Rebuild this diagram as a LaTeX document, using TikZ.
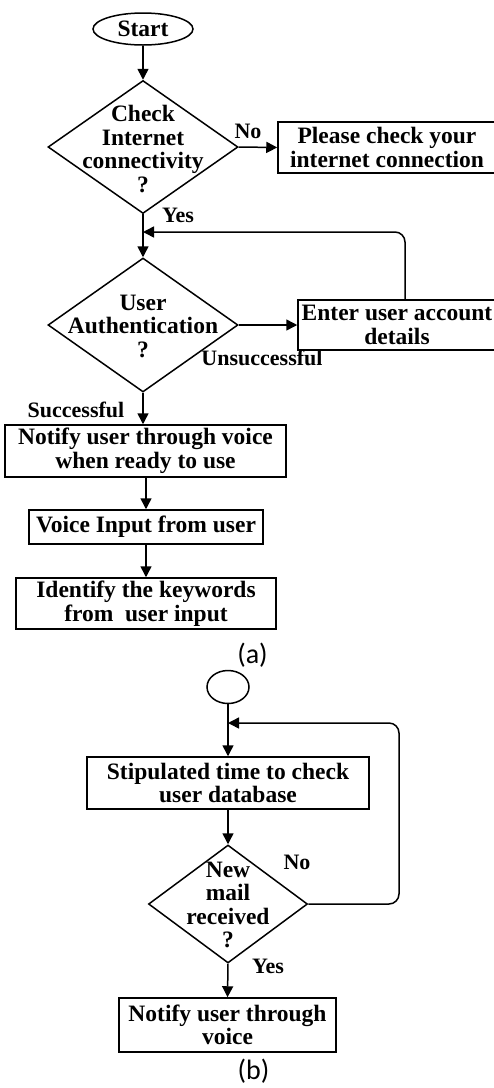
\documentclass[tikz,border=0pt]{standalone}
\usepackage{fontspec}
\setmainfont{Liberation Serif}
\newfontfamily\capfont{Carlito}
\usetikzlibrary{shapes.geometric,arrows.meta}
\tikzset{
  basetxt/.style={font=\bfseries\fontsize{23.5}{23.5}\selectfont, align=center, inner sep=0pt},
  box/.style={basetxt, draw, line width=1.5pt},
  dia/.style={draw, diamond, line width=1.5pt, inner sep=0pt},
  term/.style={draw, ellipse, line width=1.5pt, inner sep=0pt},
  txt/.style={basetxt},
  lbl/.style={font=\bfseries\fontsize{22}{22}\selectfont, inner sep=0pt},
  figcap/.style={font=\capfont\fontsize{28}{28}\selectfont, inner sep=0pt},
  arr/.style={line width=1.5pt, -{Triangle[length=11pt,width=11pt]}},
}
\begin{document}
\begin{tikzpicture}[x=1pt,y=-1pt]
\useasboundingbox (0,0) rectangle (494,1088);
% (a)
\node[term, minimum width=100pt, minimum height=32pt, basetxt] (start) at (143,29) {Start};
\node[dia, minimum width=190pt, minimum height=133pt] (d1) at (143,147) {};
\node[txt] (d1t) at (143,149) {Check\\Internet\\connectivity\\?};
\node[box, minimum width=218pt, minimum height=51pt] (b1) at (387,147.5) {Please check your\\internet connection};
\node[dia, minimum width=190pt, minimum height=134pt] (d2) at (143,325) {};
\node[txt] (d2t) at (143,326) {User\\Authentication\\?};
\node[box, minimum width=198pt, minimum height=50pt] (b2) at (397,325) {Enter user account\\details};
\node[box, minimum width=281pt, minimum height=52pt] (b3) at (145.5,451) {Notify user through voice\\when ready to use};
\node[box, minimum width=234pt, minimum height=34pt] (b4) at (146,527) {Voice Input from user};
\node[box, minimum width=260pt, minimum height=51pt] (b5) at (146,603.5) {Identify the keywords\\from\ \ user input};
\node[figcap] (capa) at (252.5,655) {(a)};
\coordinate (j1) at (143,232);
\coordinate (k1) at (405,300);
% labels (a)
\node[lbl] (no1) at (248,131) {No};
\node[lbl] (yes1) at (178,215) {Yes};
\node[lbl] (uns) at (262,358) {Unsuccessful};
\node[lbl] (suc) at (76,410) {Successful};
% edges (a)
\draw[arr] (start.south) -- (d1.north);
\draw[arr] (d1.east) -- (b1.west);
\draw[arr] (d1.south) -- (d2.north);
\draw[arr, rounded corners=10pt] (k1) |- (j1);
\draw[arr] (d2.east) -- (b2.west);
\draw[arr] (d2.south) -- (d2.south |- b3.north);
\draw[arr] (b3.south -| 146,0) -- (b4.north);
\draw[arr] (b4.south) -- (b5.north);
% (b)
\node[term, minimum width=42pt, minimum height=33pt] (c) at (228,687) {};
\node[box, minimum width=282pt, minimum height=52pt] (b6) at (228,783) {Stipulated time to check\\user database};
\node[dia, minimum width=159pt, minimum height=118pt] (d3) at (228,904) {};
\node[txt] (d3t) at (228,905) {New\\mail\\received\\?};
\node[box, minimum width=217pt, minimum height=54pt] (b7) at (227.5,1025) {Notify user through\\voice};
\node[figcap] (capb) at (253.5,1071.5) {(b)};
\coordinate (j2) at (228,723);
\coordinate (k2) at (399,723);
\node[lbl] (no2) at (297,862) {No};
\node[lbl] (yes2) at (268,966) {Yes};
\draw[arr] (c.south) -- (b6.north);
\draw[arr] (b6.south) -- (d3.north);
\draw[arr, rounded corners=10pt] (d3.east) -| (k2) -- (j2);
\draw[arr] (d3.south) -- (b7.north);
\end{tikzpicture}
\end{document}
